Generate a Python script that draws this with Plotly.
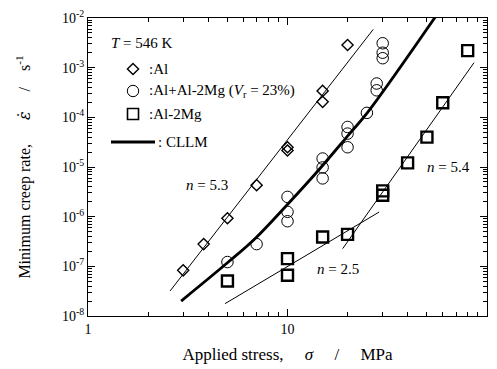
import numpy as np
import plotly.graph_objects as go

# ---------------- data ----------------
al_stress = [3, 3.8, 5, 7, 10, 10, 15, 15, 20]
al_rate = [8.3e-8, 2.8e-7, 9.3e-7, 4.3e-6, 2.5e-5, 2.15e-5, 3.4e-4, 2.05e-4, 2.86e-3]

mix_stress = [5, 7, 10, 10, 10, 15, 15, 15, 20, 20, 20, 25, 28, 28, 30, 30, 30]
mix_rate = [1.22e-7, 2.8e-7, 2.5e-6, 1.25e-6, 8.1e-7, 1.48e-5, 9.8e-6, 5.9e-6,
            6.4e-5, 4.7e-5, 2.5e-5, 1.23e-4, 4.8e-4, 3.5e-4, 3.1e-3, 2.0e-3, 1.55e-3]

mg_stress = [5, 10, 10, 15, 20, 30, 30, 40, 50, 60, 80]
mg_rate = [5.06e-8, 1.43e-7, 6.6e-8, 3.9e-7, 4.4e-7, 3.3e-6, 2.7e-6, 1.21e-5, 4.0e-5, 1.96e-4, 2.2e-3]

cllm_stress = [2.93, 5.05, 6.87, 10.1, 14.3, 20.2, 25.1, 55.5]
cllm_rate = [2.0e-8, 1.22e-7, 3.6e-7, 1.84e-6, 8.6e-6, 4.4e-5, 1.23e-4, 1.1e-2]

fit_al_stress = [2.58, 26.9]          # n = 5.3
fit_al_rate = [3.2e-8, 5.9e-3]
fit_mg_hi_stress = [18.9, 86.1]       # n = 5.4
fit_mg_hi_rate = [2.27e-7, 1.26e-3]
fit_mg_lo_stress = [4.86, 28.8]       # n = 2.5
fit_mg_lo_rate = [1.77e-8, 1.24e-6]

x_tickvals = [1, 10, 100]
x_ticktext = ["1", "10", "100"]
y_exponents = [-8, -7, -6, -5, -4, -3, -2]

legend_labels = [":Al", ":Al+Al-2Mg (<i>V</i><sub>r</sub> = 23%)", ":Al-2Mg", ": CLLM"]

FONT = "Liberation Serif"
NB = "\u00a0"

fig = go.Figure()

# thin fit lines
for xs, ys in [(fit_al_stress, fit_al_rate), (fit_mg_hi_stress, fit_mg_hi_rate),
               (fit_mg_lo_stress, fit_mg_lo_rate)]:
    fig.add_trace(go.Scatter(x=xs, y=ys, mode="lines", showlegend=False,
                             line=dict(color="black", width=1), hoverinfo="skip"))

fig.add_trace(go.Scatter(x=al_stress, y=al_rate, mode="markers", name=legend_labels[0],
                         marker=dict(symbol="diamond-open", size=8.6, color="black",
                                     line=dict(width=1.4, color="black"))))
fig.add_trace(go.Scatter(x=mix_stress, y=mix_rate, mode="markers", name=legend_labels[1],
                         marker=dict(symbol="circle-open", size=11.5, color="black",
                                     line=dict(width=1, color="black"))))
fig.add_trace(go.Scatter(x=mg_stress, y=mg_rate, mode="markers", name=legend_labels[2],
                         marker=dict(symbol="square-open", size=11, color="black",
                                     line=dict(width=2.4, color="black"))))
fig.add_trace(go.Scatter(x=cllm_stress, y=cllm_rate, mode="lines", name=legend_labels[3],
                         line=dict(color="black", width=2.8, shape="spline")))


def minor_vals(lo, hi):
    return [m * 10.0 ** k for k in range(lo, hi) for m in range(2, 10)]


axis_common = dict(
    type="log", showgrid=False, zeroline=False, automargin=False,
    showline=True, linecolor="black", linewidth=1.3, mirror="allticks",
    ticks="inside", ticklen=7, tickwidth=1, tickcolor="black",
    tickfont=dict(family=FONT, size=14, color="black"),
)

eps_dot = '<span style="font-family:\'DejaVu Serif\'"><i>ε̇</i></span>'

fig.update_xaxes(**axis_common, range=[0, 2], tickmode="array",
                 tickvals=x_tickvals, ticktext=x_ticktext,
                 minor=dict(tickmode="array", tickvals=minor_vals(0, 2), ticks="inside",
                            ticklen=4, tickwidth=1, tickcolor="black", showgrid=False),
                 title=dict(text=f"Applied stress,{NB*5}<i>σ</i>{NB*5}/{NB*5}MPa",
                            font=dict(family=FONT, size=17, color="black"), standoff=12))
fig.update_yaxes(**axis_common, range=[-8, -2], tickmode="array",
                 tickvals=[10.0 ** e for e in y_exponents],
                 ticktext=[f"10<sup>{e}</sup>" for e in y_exponents],
                 minor=dict(tickmode="array", tickvals=minor_vals(-8, -2), ticks="inside",
                            ticklen=4, tickwidth=1, tickcolor="black", showgrid=False),
                 title=dict(text=f"Minimum creep rate,{NB*6}{eps_dot}{NB*5}/{NB*4}s<sup>-1</sup>",
                            font=dict(family=FONT, size=16, color="black"),
                            standoff=27))

# ---- geometry: page pixels (the html body adds an 8 px offset) ----
OFF = 8
W, H = 497 - 2 * OFF, 369 - OFF
L, R, T, B = 88 - OFF, 487 - OFF, 18 - OFF, 316 - OFF


def px(xp):
    return (xp - OFF - L) / (R - L)


def py(yp):
    return (B - (yp - OFF)) / (B - T)


ann_font = dict(family=FONT, size=15, color="black")
fig.add_annotation(xref="paper", yref="paper", x=px(109), y=py(43), xanchor="left",
                   yanchor="middle", showarrow=False, text="<i>T</i> = 546 K", font=ann_font)

rows = [69, 91, 114, 142]
mx = px(133)
fig.add_shape(type="path", xref="paper", yref="paper", xsizemode="pixel", ysizemode="pixel",
              xanchor=mx, yanchor=py(rows[0]), path="M 0,5.6 L 5.6,0 L 0,-5.6 L -5.6,0 Z",
              line=dict(color="black", width=1.4))
fig.add_shape(type="circle", xref="paper", yref="paper", xsizemode="pixel", ysizemode="pixel",
              xanchor=mx, yanchor=py(rows[1]), x0=-5.7, x1=5.7, y0=-5.7, y1=5.7,
              line=dict(color="black", width=1))
fig.add_shape(type="rect", xref="paper", yref="paper", xsizemode="pixel", ysizemode="pixel",
              xanchor=mx, yanchor=py(rows[2]), x0=-5.5, x1=5.5, y0=-5.5, y1=5.5,
              line=dict(color="black", width=1.6))
fig.add_shape(type="line", xref="paper", yref="paper", x0=px(111), x1=px(155),
              y0=py(rows[3]), y1=py(rows[3]), line=dict(color="black", width=2.8))

for lbl, yrow, xstart in zip(legend_labels, rows, [147, 147, 147, 156]):
    fig.add_annotation(xref="paper", yref="paper", x=px(xstart), y=py(yrow), xanchor="left",
                       yanchor="middle", showarrow=False, text=lbl, font=ann_font)

for txt, sx, ry in [("<i>n</i> = 5.3", 3.95, 4.3e-6), ("<i>n</i> = 5.4", 64, 9.9e-6),
                    ("<i>n</i> = 2.5", 17.9, 8.7e-8)]:
    fig.add_annotation(x=np.log10(sx), y=np.log10(ry), text=txt, showarrow=False,
                       font=ann_font)

fig.update_layout(
    width=W, height=H,
    margin=dict(l=L, r=W - R, t=T, b=H - B),
    paper_bgcolor="white", plot_bgcolor="white",
    font=dict(family=FONT, color="black"),
    showlegend=False,
)

fig.write_html("out.html")
